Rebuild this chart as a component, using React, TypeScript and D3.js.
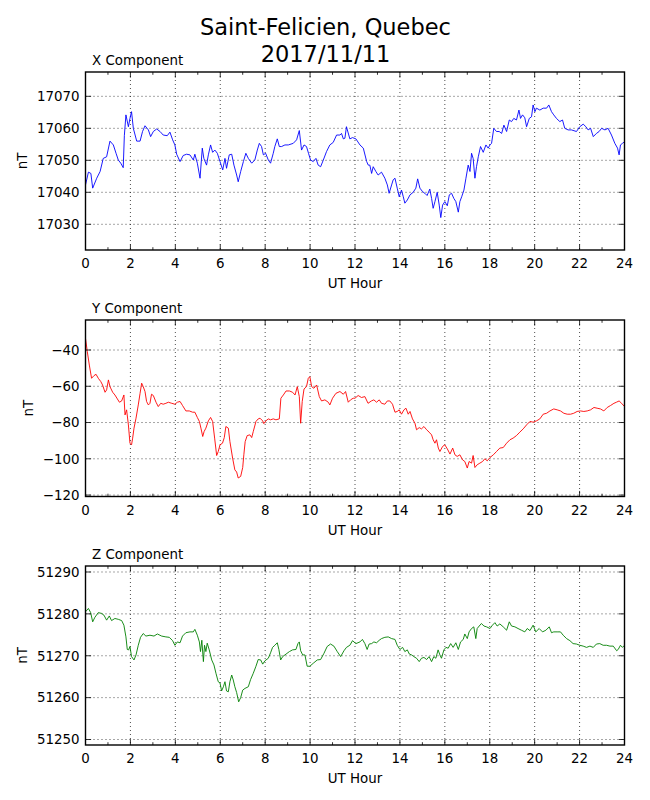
import { useEffect, useRef } from "react"
import * as d3 from "d3"

// Saint-Felicien magnetometer, 2017/11/11 — hour (UT) / nT pairs
const titleLines = ["Saint-Felicien, Quebec", "2017/11/11"]
const hourTicks = [0, 2, 4, 6, 8, 10, 12, 14, 16, 18, 20, 22, 24]
const hourMinorTicks = [1, 3, 5, 7, 9, 11, 13, 15, 17, 19, 21, 23]

const xTicks = [17030, 17040, 17050, 17060, 17070]
const yTicks = [-120, -100, -80, -60, -40]
const zTicks = [51250, 51260, 51270, 51280, 51290]

const xComponent: [number, number][] = [
  [0, 17042.3], [0.13, 17046.3], [0.24, 17045.9], [0.32, 17041.3], [0.5, 17044.4], [0.65, 17046.5], [0.79, 17050.6],
  [0.94, 17051.1], [1.09, 17056.0], [1.24, 17054.8], [1.36, 17052.2], [1.46, 17050.1], [1.57, 17049.1], [1.68, 17047.7],
  [1.73, 17057.7], [1.8, 17064.2], [1.91, 17060.5], [1.98, 17063.1], [2.05, 17065.2], [2.13, 17060.0], [2.28, 17056.0],
  [2.43, 17056.0], [2.54, 17059.0], [2.65, 17060.8], [2.8, 17059.5], [2.9, 17057.4], [3.02, 17059.0], [3.17, 17059.8],
  [3.32, 17059.0], [3.46, 17057.9], [3.64, 17057.7], [3.76, 17058.8], [3.88, 17056.4], [3.98, 17054.8], [4.06, 17051.9],
  [4.21, 17049.6], [4.35, 17051.5], [4.5, 17051.9], [4.65, 17051.7], [4.8, 17050.1], [4.87, 17051.9], [4.98, 17049.1],
  [5.1, 17044.4], [5.2, 17053.8], [5.27, 17050.6], [5.39, 17048.5], [5.47, 17051.7], [5.57, 17054.8], [5.66, 17052.5],
  [5.76, 17053.2], [5.87, 17052.2], [5.99, 17049.6], [6.11, 17047.0], [6.21, 17050.6], [6.28, 17047.5], [6.4, 17051.7],
  [6.51, 17051.9], [6.61, 17048.5], [6.73, 17045.4], [6.8, 17043.3], [6.91, 17046.5], [7.03, 17049.6], [7.14, 17052.2],
  [7.25, 17050.6], [7.4, 17049.1], [7.54, 17050.1], [7.65, 17053.2], [7.74, 17055.3], [7.84, 17054.3], [7.92, 17051.7],
  [8.02, 17052.2], [8.14, 17050.1], [8.24, 17049.1], [8.36, 17052.2], [8.43, 17054.3], [8.54, 17056.7], [8.63, 17054.3],
  [8.73, 17054.3], [8.88, 17054.8], [9.03, 17054.8], [9.25, 17055.3], [9.4, 17056.4], [9.52, 17059.3], [9.62, 17053.2],
  [9.73, 17054.8], [9.84, 17054.3], [9.93, 17052.2], [10.02, 17050.1], [10.14, 17049.6], [10.26, 17050.6], [10.36, 17048.5],
  [10.47, 17048.0], [10.59, 17050.1], [10.73, 17052.7], [10.88, 17054.8], [11.03, 17055.6], [11.18, 17057.9], [11.33, 17057.9],
  [11.4, 17058.4], [11.48, 17056.7], [11.55, 17056.9], [11.62, 17060.5], [11.77, 17056.7], [11.89, 17057.1], [12.04, 17056.7],
  [12.22, 17054.8], [12.37, 17053.8], [12.52, 17049.6], [12.59, 17048.5], [12.66, 17048.5], [12.74, 17045.9], [12.81, 17048.0],
  [12.93, 17046.5], [13.03, 17045.4], [13.18, 17046.3], [13.33, 17044.4], [13.44, 17042.3], [13.52, 17039.7], [13.63, 17042.3],
  [13.7, 17043.9], [13.78, 17044.4], [13.88, 17041.3], [13.97, 17038.6], [14.07, 17040.7], [14.15, 17038.6], [14.22, 17036.6],
  [14.33, 17037.6], [14.45, 17039.2], [14.59, 17040.0], [14.71, 17041.3], [14.79, 17044.2], [14.89, 17041.3], [15.01, 17040.2],
  [15.11, 17039.7], [15.21, 17039.0], [15.33, 17041.0], [15.41, 17038.1], [15.48, 17035.0], [15.56, 17037.1], [15.66, 17040.0],
  [15.75, 17036.0], [15.82, 17032.1], [15.9, 17036.0], [16.0, 17037.1], [16.11, 17035.8], [16.2, 17039.2], [16.3, 17039.7],
  [16.4, 17038.1], [16.49, 17037.1], [16.6, 17033.8], [16.67, 17037.1], [16.75, 17038.6], [16.85, 17040.7], [16.94, 17044.4],
  [17.04, 17048.5], [17.12, 17046.5], [17.19, 17052.2], [17.26, 17050.6], [17.34, 17044.4], [17.41, 17048.0], [17.49, 17051.1],
  [17.59, 17054.3], [17.71, 17052.5], [17.83, 17054.8], [17.93, 17053.8], [18.01, 17054.8], [18.08, 17055.3], [18.18, 17060.0],
  [18.3, 17059.0], [18.42, 17059.0], [18.53, 17058.4], [18.63, 17061.0], [18.75, 17059.0], [18.87, 17062.6], [18.97, 17062.1],
  [19.07, 17063.1], [19.19, 17062.6], [19.3, 17065.7], [19.37, 17063.1], [19.46, 17064.2], [19.56, 17063.3], [19.64, 17060.5],
  [19.76, 17063.1], [19.86, 17063.6], [19.93, 17067.3], [20.01, 17065.2], [20.08, 17066.3], [20.23, 17065.7], [20.38, 17066.3],
  [20.53, 17066.3], [20.63, 17067.3], [20.75, 17065.2], [20.85, 17064.2], [20.97, 17063.1], [21.12, 17062.1], [21.24, 17062.6],
  [21.34, 17060.0], [21.49, 17059.5], [21.64, 17059.5], [21.86, 17059.0], [22.01, 17060.5], [22.16, 17061.3], [22.28, 17060.5],
  [22.38, 17059.5], [22.49, 17060.0], [22.61, 17057.4], [22.75, 17058.4], [22.87, 17059.0], [22.98, 17060.0], [23.13, 17059.5],
  [23.27, 17060.0], [23.42, 17057.9], [23.57, 17055.3], [23.69, 17053.8], [23.76, 17051.7], [23.82, 17054.8], [23.91, 17055.3],
  [24, 17055.8],
]

const yComponent: [number, number][] = [
  [0, -33.6], [0.08, -40.9], [0.17, -48.3], [0.27, -55.6], [0.38, -54.1], [0.47, -53.4], [0.57, -55.6], [0.68, -57.4],
  [0.76, -59.3], [0.87, -63.3], [0.94, -62.0], [1.02, -56.5], [1.09, -60.2], [1.21, -63.3], [1.31, -64.8], [1.42, -67.0],
  [1.51, -68.8], [1.61, -68.1], [1.71, -64.8], [1.76, -75.8], [1.83, -73.0], [1.91, -81.3], [1.98, -91.4], [2.05, -92.3],
  [2.1, -88.6], [2.16, -83.1], [2.25, -77.6], [2.35, -70.3], [2.43, -63.9], [2.5, -58.3], [2.57, -60.2], [2.65, -62.9],
  [2.72, -68.4], [2.8, -70.3], [2.87, -69.4], [2.94, -64.4], [3.02, -65.1], [3.14, -68.8], [3.24, -71.2], [3.35, -69.4],
  [3.46, -69.9], [3.58, -69.4], [3.69, -68.8], [3.84, -69.4], [3.98, -69.9], [4.09, -68.8], [4.21, -68.4], [4.32, -70.6],
  [4.47, -73.6], [4.62, -73.6], [4.77, -74.3], [4.87, -74.3], [4.98, -77.2], [5.07, -79.4], [5.14, -83.1], [5.22, -87.7],
  [5.28, -85.0], [5.36, -83.1], [5.47, -79.1], [5.57, -77.2], [5.66, -79.4], [5.75, -88.6], [5.84, -98.2], [5.91, -96.0],
  [5.99, -92.3], [6.1, -91.4], [6.18, -88.3], [6.25, -82.2], [6.36, -83.1], [6.43, -90.5], [6.55, -99.6], [6.65, -106.1],
  [6.73, -107.3], [6.8, -110.6], [6.91, -109.7], [7.0, -104.8], [7.05, -97.8], [7.11, -90.5], [7.2, -87.2], [7.32, -86.8],
  [7.4, -88.3], [7.47, -85.0], [7.59, -79.4], [7.69, -78.0], [7.77, -77.6], [7.89, -79.1], [7.94, -80.6], [8.03, -79.1],
  [8.14, -78.0], [8.24, -78.5], [8.36, -78.0], [8.48, -78.5], [8.63, -78.0], [8.7, -66.6], [8.81, -64.8], [8.93, -62.6],
  [9.08, -62.6], [9.22, -63.3], [9.33, -64.8], [9.43, -60.2], [9.52, -65.7], [9.58, -80.4], [9.65, -68.4], [9.73, -61.5],
  [9.84, -60.2], [9.92, -55.6], [9.99, -54.7], [10.07, -60.2], [10.17, -61.1], [10.29, -59.3], [10.41, -65.7], [10.51, -68.1],
  [10.66, -67.5], [10.81, -68.8], [10.88, -70.3], [11.0, -66.6], [11.15, -63.9], [11.33, -62.9], [11.48, -64.4], [11.58, -62.9],
  [11.7, -68.8], [11.8, -67.5], [11.92, -66.6], [12.0, -66.6], [12.14, -65.1], [12.29, -66.2], [12.44, -65.7], [12.58, -69.4],
  [12.73, -68.1], [12.84, -67.5], [12.96, -68.8], [13.08, -67.5], [13.18, -69.4], [13.33, -69.9], [13.44, -68.1], [13.55, -68.1],
  [13.67, -69.9], [13.78, -74.3], [13.88, -73.9], [13.97, -73.0], [14.07, -75.4], [14.18, -73.0], [14.27, -72.1], [14.37, -75.4],
  [14.45, -73.9], [14.56, -78.0], [14.67, -80.4], [14.74, -84.0], [14.86, -82.8], [14.96, -83.5], [15.07, -82.2], [15.19, -84.0],
  [15.3, -85.3], [15.41, -86.8], [15.48, -89.5], [15.56, -91.4], [15.63, -89.5], [15.71, -94.1], [15.78, -96.0], [15.9, -93.2],
  [16.0, -92.3], [16.11, -94.5], [16.23, -97.4], [16.35, -94.1], [16.45, -97.8], [16.55, -98.7], [16.67, -97.8], [16.79, -100.6],
  [16.89, -101.5], [17.0, -105.1], [17.08, -101.5], [17.19, -102.4], [17.26, -98.2], [17.34, -104.8], [17.44, -103.3],
  [17.56, -102.4], [17.68, -101.5], [17.78, -100.0], [17.89, -101.1], [18.01, -99.3], [18.16, -97.8], [18.3, -96.0],
  [18.45, -94.1], [18.6, -93.8], [18.75, -91.4], [18.9, -89.5], [19.04, -88.6], [19.19, -87.2], [19.34, -85.3], [19.49, -83.5],
  [19.64, -81.3], [19.79, -79.4], [19.93, -79.8], [20.08, -79.1], [20.23, -78.0], [20.38, -75.4], [20.53, -74.9], [20.68, -73.6],
  [20.85, -72.5], [21.0, -73.0], [21.15, -73.6], [21.3, -74.9], [21.45, -75.4], [21.6, -75.4], [21.74, -74.9], [21.89, -73.9],
  [22.04, -73.6], [22.19, -73.9], [22.34, -73.6], [22.49, -73.0], [22.64, -71.7], [22.78, -72.1], [22.93, -72.5], [23.08, -73.6],
  [23.23, -71.7], [23.38, -70.6], [23.53, -69.4], [23.64, -68.8], [23.76, -68.1], [23.87, -69.4], [24, -71.2],
]

const zComponent: [number, number][] = [
  [0, 51280.5], [0.13, 51281.3], [0.23, 51280.3], [0.32, 51278.1], [0.42, 51279.2], [0.57, 51280.3], [0.72, 51280.1],
  [0.82, 51279.7], [0.94, 51278.5], [1.06, 51279.5], [1.16, 51278.4], [1.31, 51278.9], [1.46, 51278.7], [1.61, 51278.4],
  [1.71, 51277.3], [1.8, 51274.5], [1.86, 51271.5], [1.92, 51271.4], [1.98, 51272.2], [2.05, 51269.8], [2.16, 51269.0],
  [2.25, 51270.2], [2.35, 51272.5], [2.45, 51274.4], [2.57, 51275.3], [2.69, 51274.7], [2.87, 51274.9], [3.05, 51274.7],
  [3.2, 51275.2], [3.39, 51274.7], [3.58, 51274.5], [3.73, 51274.4], [3.88, 51273.6], [3.98, 51272.5], [4.09, 51273.3],
  [4.21, 51273.1], [4.32, 51274.7], [4.47, 51275.5], [4.65, 51275.7], [4.8, 51275.7], [4.87, 51276.3], [4.98, 51274.9],
  [5.07, 51273.3], [5.12, 51271.0], [5.18, 51273.7], [5.25, 51268.6], [5.3, 51272.5], [5.36, 51271.0], [5.42, 51273.0],
  [5.51, 51271.4], [5.62, 51269.0], [5.72, 51267.8], [5.81, 51265.8], [5.91, 51263.8], [5.99, 51263.5], [6.06, 51261.6],
  [6.14, 51262.6], [6.21, 51263.8], [6.28, 51261.6], [6.36, 51261.4], [6.43, 51263.8], [6.51, 51265.4], [6.58, 51264.2],
  [6.65, 51262.6], [6.73, 51261.2], [6.82, 51259.0], [6.91, 51260.0], [7.0, 51261.8], [7.1, 51262.2], [7.25, 51262.6],
  [7.35, 51264.3], [7.47, 51265.8], [7.59, 51267.5], [7.69, 51269.1], [7.8, 51269.0], [7.89, 51268.0], [7.99, 51268.8],
  [8.14, 51269.4], [8.24, 51270.7], [8.33, 51272.0], [8.43, 51272.5], [8.54, 51273.1], [8.61, 51271.5], [8.69, 51269.0],
  [8.78, 51269.8], [8.93, 51270.4], [9.08, 51271.0], [9.22, 51271.4], [9.37, 51271.5], [9.46, 51272.9], [9.52, 51273.3],
  [9.58, 51271.2], [9.67, 51270.2], [9.77, 51270.2], [9.87, 51267.5], [9.99, 51267.5], [10.14, 51268.2], [10.32, 51269.0],
  [10.47, 51269.1], [10.62, 51270.6], [10.76, 51272.2], [10.91, 51272.8], [11.06, 51272.3], [11.21, 51271.0], [11.36, 51269.8],
  [11.51, 51271.2], [11.62, 51272.0], [11.77, 51272.5], [11.89, 51273.6], [12.04, 51272.9], [12.22, 51273.3], [12.33, 51273.9],
  [12.44, 51272.9], [12.54, 51271.5], [12.63, 51272.8], [12.74, 51272.9], [12.84, 51273.3], [12.96, 51273.1], [13.08, 51273.7],
  [13.18, 51274.1], [13.33, 51274.4], [13.48, 51274.5], [13.63, 51274.1], [13.78, 51273.9], [13.88, 51272.5], [14.0, 51271.5],
  [14.12, 51272.0], [14.22, 51271.0], [14.33, 51271.4], [14.42, 51270.4], [14.52, 51270.2], [14.62, 51269.8], [14.74, 51269.4],
  [14.86, 51268.6], [14.96, 51269.4], [15.07, 51269.6], [15.19, 51269.1], [15.3, 51269.8], [15.41, 51268.6], [15.51, 51269.8],
  [15.6, 51269.4], [15.7, 51271.4], [15.78, 51270.2], [15.85, 51269.4], [15.96, 51271.4], [16.05, 51272.0], [16.15, 51271.8],
  [16.26, 51272.9], [16.37, 51272.0], [16.49, 51273.1], [16.6, 51271.5], [16.7, 51273.3], [16.82, 51273.9], [16.89, 51275.2],
  [17.0, 51274.1], [17.08, 51275.7], [17.19, 51276.5], [17.29, 51276.9], [17.38, 51274.1], [17.44, 51276.5], [17.53, 51277.1],
  [17.63, 51277.7], [17.74, 51277.1], [17.86, 51276.9], [18.01, 51276.5], [18.12, 51277.3], [18.23, 51277.9], [18.33, 51277.1],
  [18.45, 51277.6], [18.6, 51276.9], [18.75, 51276.1], [18.87, 51278.1], [18.97, 51277.1], [19.12, 51276.9], [19.26, 51276.5],
  [19.41, 51276.1], [19.56, 51275.7], [19.67, 51276.5], [19.79, 51276.0], [19.93, 51277.3], [20.05, 51275.7], [20.2, 51276.5],
  [20.35, 51275.7], [20.5, 51276.1], [20.65, 51276.9], [20.75, 51275.5], [20.85, 51275.7], [21.0, 51275.7], [21.15, 51275.7],
  [21.27, 51274.9], [21.42, 51274.1], [21.57, 51273.6], [21.71, 51272.9], [21.86, 51272.8], [22.01, 51272.5], [22.16, 51272.3],
  [22.31, 51272.0], [22.46, 51272.3], [22.61, 51272.0], [22.75, 51272.8], [22.9, 51272.9], [23.05, 51272.5], [23.2, 51272.5],
  [23.35, 51272.3], [23.5, 51272.3], [23.65, 51271.2], [23.72, 51271.5], [23.82, 51272.5], [23.91, 51272.0], [24, 51272.5],
]

const FONT = "'DejaVu Sans', sans-serif"
const FONT_SIZE = "13.4px"

export default function App() {
  const svgRef = useRef<SVGSVGElement>(null)

  useEffect(() => {
    if (!svgRef.current) return
    const svg = d3.select(svgRef.current)
    svg.selectAll("*").remove()

    const left = 85.5
    const right = 624.5

    const panels = [
      { title: "X Component", data: xComponent, color: "#0000ff", ticks: xTicks, domain: [17021.97, 17077.6], top: 72, bottom: 250, labelX: 27 },
      { title: "Y Component", data: yComponent, color: "#ff0000", ticks: yTicks, domain: [-120.8, -23.45], top: 320, bottom: 496.5, labelX: 33 },
      { title: "Z Component", data: zComponent, color: "#008000", ticks: zTicks, domain: [51248.69, 51291.43], top: 566, bottom: 745, labelX: 27 },
    ]

    // Titulo principal
    svg
      .append("g")
      .selectAll("text")
      .data(titleLines)
      .enter()
      .append("text")
      .attr("x", 325.5)
      .attr("y", (d, i) => 34.5 + i * 27)
      .attr("text-anchor", "middle")
      .style("font-family", FONT)
      .style("font-size", "22.5px")
      .text((d) => d)

    const xScale = d3.scaleLinear().domain([0, 24]).range([left, right])

    panels.forEach((p, idx) => {
      const yScale = d3.scaleLinear().domain(p.domain).range([p.bottom, p.top])
      const g = svg.append("g")

      const clipId = `clip-${idx}`
      g.append("clipPath")
        .attr("id", clipId)
        .append("rect")
        .attr("x", left)
        .attr("y", p.top)
        .attr("width", right - left)
        .attr("height", p.bottom - p.top)

      // Rejilla punteada
      g.selectAll(".vgrid")
        .data(hourTicks.slice(1, -1))
        .enter()
        .append("line")
        .attr("x1", (d) => xScale(d))
        .attr("x2", (d) => xScale(d))
        .attr("y1", p.top)
        .attr("y2", p.bottom)
        .attr("stroke", "#000")
        .attr("stroke-width", 0.7)
        .attr("stroke-dasharray", "1,3")

      g.selectAll(".hgrid")
        .data(p.ticks)
        .enter()
        .append("line")
        .attr("x1", left)
        .attr("x2", right)
        .attr("y1", (d) => yScale(d))
        .attr("y2", (d) => yScale(d))
        .attr("stroke", "#000")
        .attr("stroke-width", 0.7)
        .attr("stroke-dasharray", "1,3")

      // Serie
      const line = d3
        .line<[number, number]>()
        .x((d) => xScale(d[0]))
        .y((d) => yScale(d[1]))

      g.append("path")
        .datum(p.data)
        .attr("clip-path", `url(#${clipId})`)
        .attr("d", line)
        .attr("fill", "none")
        .attr("stroke", p.color)
        .attr("stroke-width", 0.9)
        .attr("stroke-linejoin", "round")

      // Marcas hacia dentro en los cuatro lados
      const tickColor = "#000"
      hourTicks.forEach((h) => {
        const x = xScale(h)
        g.append("line").attr("x1", x).attr("x2", x).attr("y1", p.bottom).attr("y2", p.bottom - 5.6).attr("stroke", tickColor).attr("stroke-width", 0.8)
        g.append("line").attr("x1", x).attr("x2", x).attr("y1", p.top).attr("y2", p.top + 5.6).attr("stroke", tickColor).attr("stroke-width", 0.8)
      })
      hourMinorTicks.forEach((h) => {
        const x = xScale(h)
        g.append("line").attr("x1", x).attr("x2", x).attr("y1", p.bottom).attr("y2", p.bottom - 2.8).attr("stroke", tickColor).attr("stroke-width", 0.8)
        g.append("line").attr("x1", x).attr("x2", x).attr("y1", p.top).attr("y2", p.top + 2.8).attr("stroke", tickColor).attr("stroke-width", 0.8)
      })
      p.ticks.forEach((v) => {
        const y = yScale(v)
        g.append("line").attr("x1", left).attr("x2", left + 5.6).attr("y1", y).attr("y2", y).attr("stroke", tickColor).attr("stroke-width", 0.8)
        g.append("line").attr("x1", right).attr("x2", right - 5.6).attr("y1", y).attr("y2", y).attr("stroke", tickColor).attr("stroke-width", 0.8)
      })

      // Marco
      g.append("rect")
        .attr("x", left)
        .attr("y", p.top)
        .attr("width", right - left)
        .attr("height", p.bottom - p.top)
        .attr("fill", "none")
        .attr("stroke", "#000")
        .attr("stroke-width", 1.4)

      // Etiquetas de ticks
      g.selectAll(".xlab")
        .data(hourTicks)
        .enter()
        .append("text")
        .attr("x", (d) => xScale(d))
        .attr("y", p.bottom + 18)
        .attr("text-anchor", "middle")
        .style("font-family", FONT)
        .style("font-size", FONT_SIZE)
        .text((d) => String(d))

      g.selectAll(".ylab")
        .data(p.ticks)
        .enter()
        .append("text")
        .attr("x", left - 6)
        .attr("y", (d) => yScale(d))
        .attr("dy", "0.36em")
        .attr("text-anchor", "end")
        .style("font-family", FONT)
        .style("font-size", FONT_SIZE)
        .text((d) => (d < 0 ? "\u2212" + Math.abs(d) : String(d)))

      // Titulo del panel y ejes
      g.append("text")
        .attr("x", 92)
        .attr("y", p.top - 7)
        .style("font-family", FONT)
        .style("font-size", FONT_SIZE)
        .text(p.title)

      g.append("text")
        .attr("x", (left + right) / 2)
        .attr("y", p.bottom + 38)
        .attr("text-anchor", "middle")
        .style("font-family", FONT)
        .style("font-size", FONT_SIZE)
        .text("UT Hour")

      g.append("text")
        .attr("transform", `translate(${p.labelX},${(p.top + p.bottom) / 2}) rotate(-90)`)
        .attr("text-anchor", "middle")
        .style("font-family", FONT)
        .style("font-size", FONT_SIZE)
        .text("nT")
    })
  }, [])

  return (
    <svg
      ref={svgRef}
      width={650}
      height={800}
      style={{ position: "absolute", left: 0, top: 0, background: "#fff" }}
    />
  )
}
